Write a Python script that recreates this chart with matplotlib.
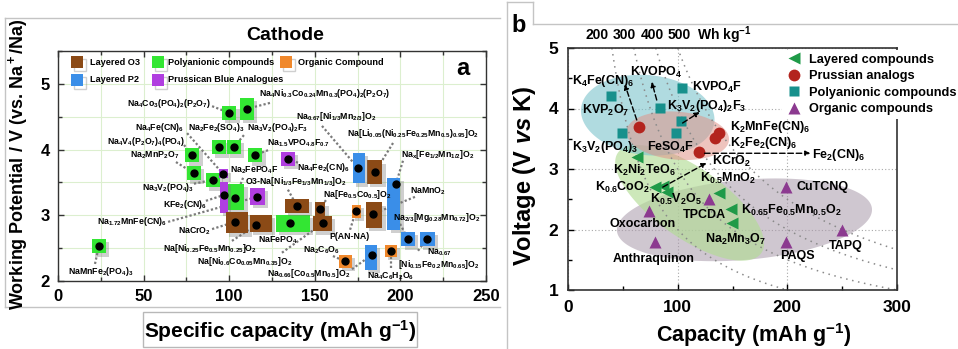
import numpy as np
import matplotlib
matplotlib.use('Agg')
import matplotlib.pyplot as plt
from matplotlib.lines import Line2D
from matplotlib.patches import Rectangle, Polygon
import matplotlib.patheffects as pe

plt.rcParams['font.family'] = ['Liberation Sans', 'DejaVu Sans']
plt.rcParams['font.weight'] = 'bold'
plt.rcParams['mathtext.fontset'] = 'custom'
plt.rcParams['mathtext.rm'] = 'Liberation Sans:bold'
plt.rcParams['mathtext.it'] = 'Liberation Sans:italic:bold'
plt.rcParams['mathtext.bf'] = 'Liberation Sans:bold'
plt.rcParams['mathtext.default'] = 'rm'

# ---------------- panel a : Na cathodes ----------------
a_names = [
    'Na$_4$Co$_3$(PO$_4$)$_2$(P$_2$O$_7$)',
    'Na$_4$Ni$_{0.3}$Co$_{0.24}$Mn$_{0.3}$(PO$_4$)$_2$(P$_2$O$_7$)',
    'Na$_2$Fe$_2$(SO$_4$)$_3$',
    'Na$_3$V$_2$(PO$_4$)$_2$F$_3$',
    'Na$_{1.5}$VPO$_{4.8}$F$_{0.7}$',
    'Na$_4$V$_4$(P$_2$O$_7$)$_4$(PO$_4$)',
    'Na$_2$MnP$_2$O$_7$',
    'Na$_3$V$_2$(PO$_4$)$_3$',
    'Na$_2$FePO$_4$F',
    'NaFePO$_4$',
    'NaMnFe$_2$(PO$_4$)$_3$',
    'Na$_4$Fe(CN)$_6$',
    'KFe$_2$(CN)$_6$',
    'Na$_{1.72}$MnFe(CN)$_6$',
    'Na$_4$Fe$_2$(CN)$_6$',
    'NaCrO$_2$',
    'Na[Ni$_{0.25}$Fe$_{0.5}$Mn$_{0.25}$]O$_2$',
    'O3-Na[Ni$_{1/3}$Fe$_{1/3}$Mn$_{1/3}$]O$_2$',
    'Na[Fe$_{0.5}$Co$_{0.5}$]O$_2$',
    'Na[Ni$_{0.6}$Co$_{0.05}$Mn$_{0.35}$]O$_2$',
    'NaMnO$_2$',
    'Na[Li$_{0.05}$(Ni$_{0.25}$Fe$_{0.25}$Mn$_{0.5}$)$_{0.95}$]O$_2$',
    'Na$_{0.67}$[Ni$_{1/3}$Mn$_{2/3}$]O$_2$',
    'Na$_x$[Fe$_{1/2}$Mn$_{1/2}$]O$_2$',
    'Na$_{2/3}$[Mg$_{0.28}$Mn$_{0.72}$]O$_2$',
    'Na$_{0.67}$\n[Ni$_{0.15}$Fe$_{0.2}$Mn$_{0.65}$]O$_2$',
    'Na$_{0.66}$[Co$_{0.5}$Mn$_{0.5}$]O$_2$',
    'Na$_2$C$_6$O$_6$',
    'P(AN-NA)',
    'Na$_4$C$_6$H$_2$O$_6$',
]
a_cat = ['poly'] * 11 + ['pba'] * 4 + ['O3'] * 7 + ['P2'] * 5 + ['org'] * 3
a_cap = [99.9, 110.4, 94.0, 102.8, 115.1, 78.3, 79.4, 90.5, 103.4, 135.5, 23.9,
         96.4, 97.0, 116.2, 134.3,
         103.4, 115.7, 139.6, 153.0, 154.8, 184.0, 185.2,
         175.2, 197.4, 204.4, 215.5, 183.4,
         167.6, 174.1, 194.5]
a_pot = [4.56, 4.62, 4.04, 4.04, 3.92, 3.92, 3.64, 3.54, 3.26, 2.88, 2.53,
         3.63, 3.31, 3.28, 3.86,
         2.90, 2.85, 3.14, 3.10, 2.88, 3.02, 3.66,
         3.72, 3.48, 2.64, 2.64, 2.40,
         2.30, 3.07, 2.46]
# ranges drawn as boxes
a_cap_lo = [95.8, 106.3, 89.9, 98.7, 111.0, 74.2, 75.3, 86.4, 98.2, 127.3, 19.8,
            93.8, 94.6, 112.1, 130.2,
            98.1, 112.1, 132.6, 150.1, 148.9, 179.9, 180.5,
            172.3, 192.2, 200.4, 211.4, 179.3,
            164.1, 171.7, 191.0]
a_cap_hi = [104.0, 114.5, 98.1, 106.9, 119.2, 82.4, 83.5, 94.6, 108.7, 147.2, 28.0,
            99.1, 99.3, 120.9, 138.4,
            111.0, 125.0, 146.6, 156.0, 160.0, 189.3, 189.3,
            179.3, 199.8, 208.5, 220.2, 186.3,
            171.7, 177.0, 198.0]
a_pot_lo = [4.45, 4.45, 3.93, 3.93, 3.81, 3.81, 3.53, 3.43, 3.08, 2.75, 2.42,
            3.56, 3.04, 3.16, 3.75,
            2.73, 2.75, 3.04, 2.99, 2.76, 2.81, 3.48,
            3.49, 2.78, 2.53, 2.53, 2.17,
            2.20, 2.96, 2.37]
a_pot_hi = [4.67, 4.79, 4.15, 4.15, 4.03, 4.03, 3.75, 3.65, 3.48, 3.01, 2.64,
            3.70, 3.51, 3.42, 3.97,
            3.05, 3.01, 3.25, 3.20, 2.99, 3.20, 3.84,
            3.95, 3.57, 2.75, 2.75, 2.55,
            2.40, 3.16, 2.55]

# label placement (left edge, middle) and start of the dotted leader
a_lab_x = [40.3, 117.4, 75.9, 110.4, 122.1, 28.6, 42.1, 49.1, 100.5, 116.8, 5.8,
           45.0, 61.3, 22.8, 139.6,
           70.1, 61.3, 109.2, 154.8, 81.2, 205.6, 168.8,
           139.0, 200.4, 195.7, 222.5, 122.1,
           143.1, 158.3, 180.5]
a_lab_y = [4.70, 4.85, 4.33, 4.33, 4.09, 4.12, 3.92, 3.43, 3.68, 2.62, 2.14,
           4.33, 3.16, 2.90, 3.72,
           2.75, 2.49, 3.51, 3.31, 2.29, 3.36, 4.25,
           4.50, 3.92, 2.96, 2.34, 2.11,
           2.47, 2.67, 2.07]
a_lead_x = [90.0, 123.8, None, 108.6, 122.7, 73.6, 68.9, 79.4, 108.1, None, 21.6,
            75.4, 86.4, 64.3, 140.2,
            90.0, 101.6, 134.3, 156.5, 130.8, 208.5, 195.7,
            154.2, 201.5, 199.8, 210.3, 171.7,
            160.6, 170.6, 194.5]
a_lead_y = [4.66, 4.71, None, 4.22, 3.99, 4.07, 3.81, 3.48, 3.57, None, 2.26,
            4.25, 3.22, 2.90, 3.80,
            2.79, 2.61, 3.39, 3.23, 2.43, 3.28, 4.10,
            4.36, 3.83, 2.87, 2.46, 2.18,
            2.38, 2.78, 2.20]

a_colors = {'O3': '#8b4a16', 'P2': '#3a8ee8', 'poly': '#33e633',
            'pba': '#b03ee0', 'org': '#f0882c'}
a_legend = [('O3', 'Layered O3'), ('P2', 'Layered P2'),
            ('poly', 'Polyanionic compounds'), ('pba', 'Prussican Blue Analogues'),
            ('org', 'Organic Compound')]

# ---------------- panel b : K cathodes ----------------
lay_cap = [62.7, 79.0, 87.0, 90.0, 137.3, 148.2, 149.1]
lay_v = [3.20, 2.70, 2.72, 2.62, 2.60, 2.34, 2.11]
pru_cap = [64.5, 133.6, 138.0, 119.0]
pru_v = [3.69, 3.51, 3.60, 3.28]
pol_cap = [39.1, 83.6, 103.6, 49.1, 102.7, 98.2]
pol_v = [4.21, 4.01, 4.34, 3.59, 3.79, 3.60]
org_cap = [73.6, 79.0, 128.2, 199.0, 199.0, 250.0]
org_v = [2.31, 1.79, 2.50, 2.70, 1.80, 1.99]
energy_levels = [200, 300, 400, 500]

b_labels = ['K$_4$Fe(CN)$_6$', 'KVOPO$_4$', 'KVPO$_4$F', 'K$_3$V$_2$(PO$_4$)$_2$F$_3$',
            'KVP$_2$O$_7$', 'K$_3$V$_2$(PO$_4$)$_3$', 'FeSO$_4$F', 'K$_2$MnFe(CN)$_6$',
            'K$_2$Fe$_2$(CN)$_6$', 'Fe$_2$(CN)$_6$', 'KCrO$_2$', 'K$_2$Ni$_2$TeO$_6$',
            'K$_{0.5}$MnO$_2$', 'K$_{0.6}$CoO$_2$', 'K$_{0.5}$V$_2$O$_5$', 'TPCDA',
            'K$_{0.65}$Fe$_{0.5}$Mn$_{0.5}$O$_2$', 'CuTCNQ', 'Oxocarbon',
            'Na$_2$Mn$_3$O$_7$', 'Anthraquinon', 'PAQS', 'TAPQ']
b_lab_x = [3.6, 56.4, 112.7, 90.0, 12.7, 3.6, 71.8, 147.3, 147.3, 222.7, 130.9, 40.9,
           120.0, 24.5, 74.5, 104.5, 158.2, 208.2, 38.2, 124.5, 40.9, 193.6, 238.2]
b_lab_y = [4.45, 4.60, 4.34, 4.04, 3.96, 3.36, 3.36, 3.69, 3.43, 3.23, 3.12, 2.98,
           2.85, 2.70, 2.49, 2.24, 2.32, 2.70, 2.09, 1.83, 1.51, 1.56, 1.73]
# dashed arrows (from, to)
b_arrows = [((62.7, 3.81), (51.8, 4.40)), ((80.9, 4.14), (76.4, 4.44)),
            ((104.5, 3.76), (120.0, 3.94)), ((124.5, 3.26), (221.0, 3.26)),
            ((86.4, 2.70), (126.4, 3.10))]

W, H = 958, 349
fig = plt.figure(figsize=(W / 100, H / 100), dpi=100)


def fx(px):
    return px / W


def fy(py):
    return 1 - py / H


def fig_line(xs, ys, color='#c4c4c4', lw=1.0):
    fig.add_artist(Line2D([fx(x) for x in xs], [fy(y) for y in ys],
                          transform=fig.transFigure, color=color, lw=lw))


# frames
fig_line([5, 500], [18, 18])
fig_line([5, 5], [18, 307])
fig_line([5, 500], [307, 307])
fig.add_artist(Rectangle((fx(143), fy(347)), fx(417) - fx(143), fy(312) - fy(347),
                         transform=fig.transFigure, fill=False, ec='#b8b8b8', lw=1))
fig_line([507, 507], [2, 349])
fig_line([507, 533], [2, 2])
fig_line([533, 533], [2, 24])
fig_line([533, 958], [24, 24])

# ---------- panel a ----------
ax = fig.add_axes([fx(58), fy(281), fx(486) - fx(58), fy(51) - fy(281)])
ax.set_xlim(0, 250)
ax.set_ylim(2, 5.5)
ax.set_xticks([0, 50, 100, 150, 200, 250])
ax.set_yticks([2, 3, 4, 5])
ax.set_xticks(np.arange(0, 251, 25), minor=True)
ax.set_yticks(np.arange(2, 5.51, 0.5), minor=True)
ax.grid(True, which='both', color='#dcefcf', lw=0.8)
ax.set_axisbelow(True)
ax.tick_params(which='both', direction='in', top=True, right=True, width=1, colors='#333333')
ax.tick_params(which='major', length=4, labelsize=12, pad=6, labelcolor='k')
ax.tick_params(which='minor', length=3)
for s in ax.spines.values():
    s.set_color('#333333')
    s.set_linewidth(1)

shadow = [pe.SimplePatchShadow(offset=(2.5, -2.5), shadow_rgbFace='#777777', alpha=0.35), pe.Normal()]
for i in range(len(a_cap)):
    ax.add_patch(Rectangle((a_cap_lo[i], a_pot_lo[i]), a_cap_hi[i] - a_cap_lo[i],
                           a_pot_hi[i] - a_pot_lo[i], fc=a_colors[a_cat[i]], ec='none',
                           zorder=3, path_effects=shadow))
    if a_lead_x[i] is not None:
        ax.plot([a_lead_x[i], a_cap[i]], [a_lead_y[i], a_pot[i]], color='#7a7a7a',
                ls=(0, (1, 1)), lw=1.6, zorder=2)
    if '\n' in a_names[i]:
        ax.text(a_lab_x[i], a_lab_y[i], a_names[i], fontsize=6.2, ha='center', va='center',
                multialignment='center', linespacing=0.95, zorder=5)
    else:
        ax.text(a_lab_x[i], a_lab_y[i], a_names[i], fontsize=6.3, ha='left', va='center', zorder=5)
ax.plot(a_cap, a_pot, 'o', color='k', ms=5, zorder=4)

# legend drawn by hand so the boxes get a shadow like the plot
leg_pos = [(0.0444, 0.952, 0.0748), (0.0444, 0.874, 0.0748), (0.2336, 0.952, 0.257),
           (0.2336, 0.874, 0.257), (0.533, 0.952, 0.561)]
for (key, txt), (mx, my, tx) in zip(a_legend, leg_pos):
    ax.plot([mx], [my], 's', ms=8.5, color=a_colors[key], mec='none', transform=ax.transAxes,
            zorder=5, path_effects=[pe.SimpleLineShadow(offset=(2, -2), shadow_color='#777777', alpha=0.35), pe.Normal()])
    ax.text(tx, my, txt, transform=ax.transAxes, fontsize=6.6, va='center', ha='left', zorder=5)
fig.text(fx(463), fy(75), 'a', fontsize=17, ha='center', va='baseline')
fig.text(fx(285), fy(40), 'Cathode', fontsize=14, ha='center', va='baseline')
fig.text(fx(18), fy(164), 'Working Potential / V (vs. Na$^+$/Na)', rotation=90,
         fontsize=13, ha='center', va='center')
fig.text(fx(280), fy(338), 'Specific capacity (mAh g$^{-1}$)', fontsize=15,
         ha='center', va='baseline')

# ---------- panel b ----------
bx = fig.add_axes([fx(568), fy(290), fx(897) - fx(568), fy(48) - fy(290)])
bx.set_xlim(0, 300)
bx.set_ylim(1, 5)
bx.set_xticks([0, 100, 200, 300])
bx.set_yticks([1, 2, 3, 4, 5])
bx.set_xticks([50, 150, 250], minor=True)
bx.set_yticks([1.5, 2.5, 3.5, 4.5], minor=True)
bx.tick_params(which='both', direction='in', width=1)
bx.tick_params(which='major', length=4, labelsize=12.5, pad=7)
bx.tick_params(which='minor', length=3)
bx.grid(True, which='major', color='#a8a8a8', ls=(0, (1, 2)), lw=0.8)
bx.set_axisbelow(True)
for s in bx.spines.values():
    s.set_color('#333333')
    s.set_linewidth(1.2)

box = bx.get_position()
sx = box.width * W / 300.0
sy = box.height * H / 4.0


def ellipse(cx, cy, w_px, h_px, ang, color, alpha):
    t = np.linspace(0, 2 * np.pi, 200)
    u = w_px / 2 * np.cos(t)
    v = h_px / 2 * np.sin(t)
    a = np.deg2rad(ang)
    dx = u * np.cos(a) - v * np.sin(a)
    dy = u * np.sin(a) + v * np.cos(a)
    bx.add_patch(Polygon(np.column_stack([cx + dx / sx, cy + dy / sy]), closed=True,
                         fc=color, ec='none', alpha=alpha, zorder=1))


ellipse(160.9, 2.16, 256, 80, 5, '#a999aa', 0.55)
ellipse(110.9, 2.44, 175, 70, -35, '#b2dc95', 0.65)
ellipse(72.7, 3.89, 134, 80, -6, '#7cc3cc', 0.6)
ellipse(100.0, 3.55, 103, 48, -5, '#e0948a', 0.55)

for e in energy_levels:
    q = np.linspace(e / 5.0, min(e / 1.0, 300), 300)
    bx.plot(q, e / q, color='#8a8a8a', ls=(0, (1, 3)), lw=1.1, zorder=1.5)

bx.plot(lay_cap, lay_v, '<', color='#1f9a48', ms=9, mec='none', ls='none', zorder=4, label='Layered compounds')
bx.plot(pru_cap, pru_v, 'o', color='#b3241e', ms=8.5, mec='none', ls='none', zorder=4, label='Prussian analogs')
bx.plot(pol_cap, pol_v, 's', color='#17908c', ms=7.5, mec='none', ls='none', zorder=4, label='Polyanionic compounds')
bx.plot(org_cap, org_v, '^', color='#8c3a90', ms=9, mec='none', ls='none', zorder=4, label='Organic compounds')

for (x0, y0), (x1, y1) in b_arrows:
    bx.annotate('', xy=(x1, y1), xytext=(x0, y0),
                arrowprops=dict(arrowstyle='-|>', color='k', lw=1, ls=(0, (4, 2)),
                                mutation_scale=7, shrinkA=0, shrinkB=0), zorder=5)
for txt, x, y in zip(b_labels, b_lab_x, b_lab_y):
    bx.text(x, y, txt, fontsize=9, ha='left', va='center', zorder=6, clip_on=False)

leg = bx.legend(loc='upper left', bbox_to_anchor=(fx(782), fy(50)), bbox_transform=fig.transFigure,
                fontsize=9.2, frameon=True, facecolor='white', edgecolor='none', framealpha=1,
                handletextpad=0.6, labelspacing=0.35, borderpad=0.3, handlelength=1.2,
                borderaxespad=0)
leg.set_zorder(10)

for txt, px in zip(['200', '300', '400', '500'], [597, 624, 652, 679]):
    fig.text(fx(px), fy(35), txt, fontsize=10, ha='center', va='center')
fig.text(fx(697), fy(35), 'Wh kg$^{-1}$', fontsize=10, ha='left', va='center')

fig.text(fx(519), fy(32), 'b', fontsize=17, ha='center', va='baseline')
fig.text(fx(524), fy(176), 'Voltage (V $\\it{vs}$ K)', rotation=90, fontsize=17,
         ha='center', va='center')
fig.text(fx(754), fy(342), 'Capacity (mAh g$^{-1}$)', fontsize=15.5, ha='center', va='baseline')

fig.savefig('out.png', dpi=100, facecolor='white')
